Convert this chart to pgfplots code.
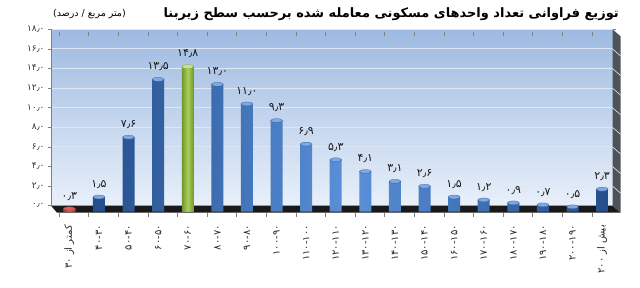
\documentclass[border=0pt]{standalone}
\usepackage{pgfplots}
\pgfplotsset{compat=1.18}
\usepackage{pgfplotstable}
\usepackage{fontspec}
\setmainfont{DejaVu Sans}
\newfontfamily\fa[Script=Arabic]{DejaVu Sans}
\TeXXeTstate=1
\definecolor{bgtop}{RGB}{158,186,225}
\definecolor{bgbot}{RGB}{232,240,250}
\definecolor{gridc}{RGB}{222,232,245}
\definecolor{bdark}{RGB}{36,78,140}
\definecolor{blight}{RGB}{90,145,218}
\definecolor{btop}{RGB}{125,168,226}
\definecolor{gdark}{RGB}{112,150,40}
\definecolor{glight}{RGB}{172,208,92}
\definecolor{gtop}{RGB}{200,228,130}
\definecolor{rdark}{RGB}{170,50,50}
\definecolor{rlight}{RGB}{220,90,90}
\definecolor{wallc}{RGB}{78,83,90}

\pgfplotstableread{
x y lab
1 1.5 ۱٫۵
2 7.6 ۷٫۶
3 13.5 ۱۳٫۵
5 13.0 ۱۳٫۰
6 11.0 ۱۱٫۰
7 9.3 ۹٫۳
8 6.9 ۶٫۹
9 5.3 ۵٫۳
10 4.1 ۴٫۱
11 3.1 ۳٫۱
12 2.6 ۲٫۶
13 1.5 ۱٫۵
14 1.2 ۱٫۲
15 0.9 ۰٫۹
16 0.7 ۰٫۷
17 0.5 ۰٫۵
18 2.3 ۲٫۳
}\bluedata
\pgfplotstableread{
x y lab
0 0.3 ۰٫۳
}\reddata
\pgfplotstableread{
x y lab
4 14.8 ۱۴٫۸
}\greendata

\begin{document}
\begin{tikzpicture}
\useasboundingbox (0,0) rectangle (640bp,288bp);
\begin{axis}[
  at={(51bp,82.3bp)}, anchor=south west,
  scale only axis, width=561.5bp, height=176.4bp,
  xmin=-0.62, xmax=18.35, ymin=0, ymax=18,
  clip=false,
  axis line style={draw=none},
  axis background/.style={top color=bgtop, bottom color=bgbot},
  ymajorgrids, grid style={gridc, line width=0.8bp},
  ytick={0,2,...,18},
  yticklabels={۰٫۰,۲٫۰,۴٫۰,۶٫۰,۸٫۰,۱۰٫۰,۱۲٫۰,۱۴٫۰,۱۶٫۰,۱۸٫۰},
  yticklabel style={font=\fa\fontsize{9}{10}\selectfont, text=black!80},
  ytick style={gray, line width=0.5bp},
  major tick length=3bp, tick align=outside,
  xtick={0,...,18},
  major x tick style={draw=none},
  minor xtick={-0.35,0.65,...,18.7},
  minor x tick style={gray, line width=0.5bp, yshift=-7bp},
  minor tick length=4bp,
  xticklabels={{\beginR کمتر از ۳۰\endR},۴۰-۳۰,۵۰-۴۰,۶۰-۵۰,۷۰-۶۰,۸۰-۷۰,۹۰-۸۰,۱۰۰-۹۰,۱۱۰-۱۰۰,۱۲۰-۱۱۰,۱۳۰-۱۲۰,۱۴۰-۱۳۰,۱۵۰-۱۴۰,۱۶۰-۱۵۰,۱۷۰-۱۶۰,۱۸۰-۱۷۰,۱۹۰-۱۸۰,۲۰۰-۱۹۰,{\beginR بیش از ۲۰۰\endR}},
  xticklabel style={rotate=90, anchor=east, font=\fa\fontsize{10}{11}\selectfont, text=black!85},
  xticklabel shift=13bp,
  every node near coord/.append style={font=\fa\fontsize{11}{12}\selectfont, text=black!90, anchor=south, yshift=5bp},
]
% floor
\fill[black!90] (axis cs:-0.62,0) -- (axis cs:18.35,0) -- ([xshift=8bp,yshift=-7bp]axis cs:18.35,0) -- ([xshift=6bp,yshift=-7bp]axis cs:-0.62,0) -- cycle;
% right wall
\fill[wallc] (axis cs:18.35,0) -- (axis cs:18.35,18) -- ([xshift=8bp,yshift=-7bp]axis cs:18.35,18) -- ([xshift=8bp,yshift=-7bp]axis cs:18.35,0) -- cycle;
\pgfplotsinvokeforeach{2,4,...,16}{
  \draw[white!85!gray, line width=0.6bp] (axis cs:18.35,#1) -- ([xshift=8bp,yshift=-7bp]axis cs:18.35,#1);
}
\draw[gray, line width=0.5bp] (rel axis cs:0,0) -- (rel axis cs:0,1);

\addplot[ybar, bar width=12bp, bar shift=0pt, draw=none, left color=bdark, right color=bdark, middle color=blight, yshift=-6bp,
  nodes near coords, point meta=explicit symbolic] table[x=x,y=y,meta=lab]{\bluedata};
\addplot[only marks, mark=*, mark size=6bp, mark options={yscale=0.33, fill=btop, draw=bdark, line width=0.2bp}, yshift=-6bp] table[x=x,y=y]{\bluedata};

\addplot[ybar, bar width=12bp, bar shift=0pt, draw=none, left color=gdark, right color=gdark, middle color=glight, yshift=-6bp,
  nodes near coords, point meta=explicit symbolic] table[x=x,y=y,meta=lab]{\greendata};
\addplot[only marks, mark=*, mark size=6bp, mark options={yscale=0.33, fill=gtop, draw=gdark, line width=0.2bp}, yshift=-6bp] table[x=x,y=y]{\greendata};

\addplot[ybar, bar width=12bp, bar shift=0pt, draw=none, left color=rdark, right color=rdark, middle color=rlight, yshift=-6bp,
  nodes near coords, point meta=explicit symbolic] table[x=x,y=y,meta=lab]{\reddata};
\addplot[only marks, mark=*, mark size=6bp, mark options={yscale=0.33, fill=rlight, draw=rdark, line width=0.2bp}, yshift=-6bp] table[x=x,y=y]{\reddata};
\end{axis}
\node[anchor=east, font=\fa\bfseries\fontsize{13}{15}\selectfont, inner sep=0pt] at (619bp,274bp) {\beginR توزیع فراوانی تعداد واحدهای مسکونی معامله شده برحسب سطح زیربنا\endR};
\node[anchor=west, font=\fa\fontsize{9.5}{11}\selectfont, inner sep=0pt] at (53bp,274bp) {\beginR (متر مربع / درصد)\endR};
\end{tikzpicture}
\end{document}
